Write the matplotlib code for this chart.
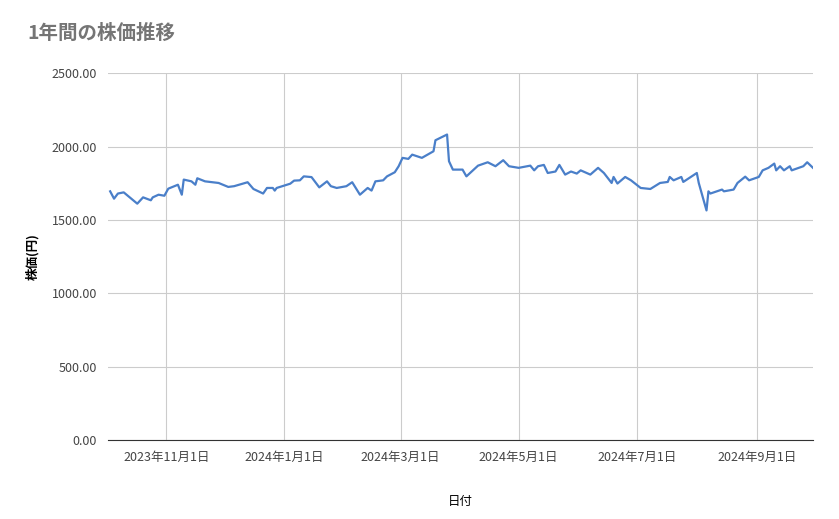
import matplotlib
matplotlib.use("Agg")
import matplotlib.pyplot as plt
import pandas as pd

plt.rcParams['font.family'] = ['Noto Sans CJK JP', 'DejaVu Sans']

start = "2023-10-01"
day_offsets = [2,4,6,9,16,19,23,24,27,30,32,37,39,40,44,46,47,51,58,63,66,73,76,81,83,86,87,88,
               95,97,100,102,106,110,114,116,119,124,127,131,135,137,139,143,145,149,151,153,156,158,
               163,169,170,176,177,179,184,186,192,197,201,205,208,213,219,221,223,226,228,232,234,
               237,240,243,245,250,254,257,261,262,264,268,271,276,281,286,290,291,293,297,298,305,
               306,310,311,312,318,319,324,326,330,332,337,339,342,345,346,348,350,353,354,360,362,365]
prices = [1695,1645,1680,1688,1611,1654,1634,1654,1672,1665,1713,1740,1672,1775,1763,1740,1784,1763,
          1752,1725,1730,1757,1711,1680,1718,1718,1700,1718,1747,1768,1770,1797,1792,1722,1763,1730,
          1718,1730,1757,1672,1718,1700,1763,1770,1797,1825,1866,1923,1916,1945,1923,1968,2043,2082,
          1900,1843,1843,1797,1870,1893,1866,1907,1866,1855,1870,1838,1866,1875,1820,1830,1875,1809,
          1830,1816,1838,1809,1855,1820,1752,1793,1748,1793,1770,1718,1711,1752,1759,1793,1770,1793,
          1759,1820,1752,1565,1695,1680,1707,1695,1707,1752,1795,1770,1793,1838,1855,1884,1838,1866,
          1838,1866,1838,1866,1893,1855]
tick_dates = ["2023-11-01","2024-01-01","2024-03-01","2024-05-01","2024-07-01","2024-09-01"]
tick_labels = ["2023年11月1日","2024年1月1日","2024年3月1日","2024年5月1日","2024年7月1日","2024年9月1日"]
y_ticks = [0,500,1000,1500,2000,2500]

dates = pd.Timestamp(start) + pd.to_timedelta(day_offsets, unit="D")

fig = plt.figure(figsize=(8.39,5.19), dpi=100)
ax = fig.add_axes([0.129,0.152,0.840,0.707])
ax.plot(dates, prices, color="#4a7fc9", lw=1.6)
ax.set_ylim(0,2500)
ax.set_xlim(pd.Timestamp("2023-10-02"), pd.Timestamp("2024-09-30"))
ax.set_yticks(y_ticks)
ax.set_yticklabels([f"{v:.2f}" for v in y_ticks], fontsize=9, color="#444444")
ax.set_xticks(pd.to_datetime(tick_dates))
ax.set_xticklabels(tick_labels, fontsize=9, color="#444444")
ax.grid(True, color="#cccccc", lw=0.8)
ax.tick_params(length=0, pad=8)
for s in ["top","right","left"]:
    ax.spines[s].set_visible(False)
ax.spines["bottom"].set_color("#333333")
ax.set_xlabel("日付", fontsize=9, labelpad=22)
ax.set_ylabel("株価(円)", fontsize=9, labelpad=9, fontweight="bold")
fig.text(0.033, 0.925, "1年間の株価推移", fontsize=14, color="#757575", fontweight="bold")
fig.savefig("out.png", dpi=100)
